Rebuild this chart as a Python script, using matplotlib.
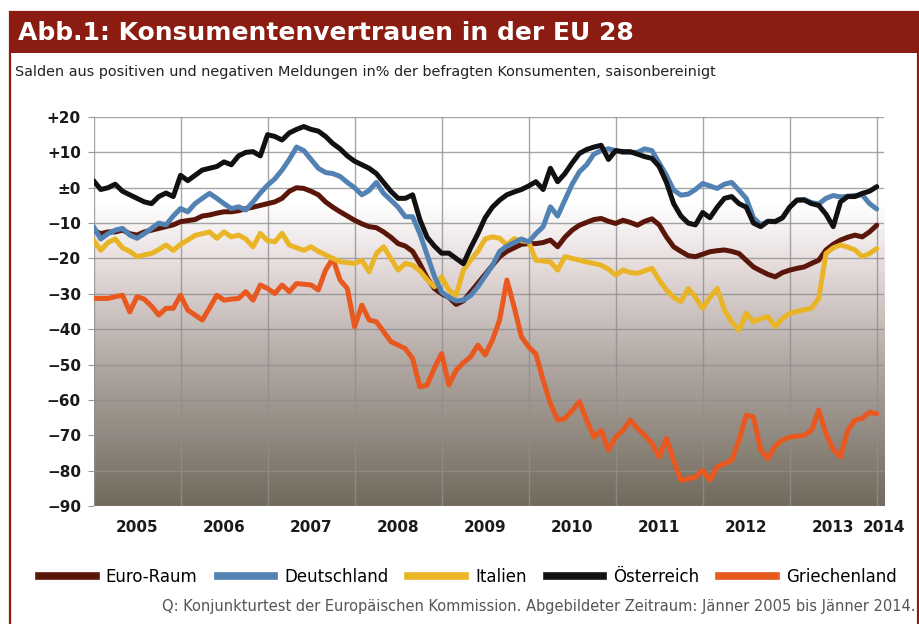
import numpy as np
import matplotlib
matplotlib.use("Agg")
import matplotlib.pyplot as plt
from matplotlib.colors import LinearSegmentedColormap
from matplotlib.patches import Rectangle
from matplotlib.lines import Line2D

# ---------------- data (monthly, Jan 2005 .. Jan 2014) ----------------
years = ["2005", "2006", "2007", "2008", "2009", "2010", "2011", "2012", "2013", "2014"]
y_ticks = [20, 10, 0, -10, -20, -30, -40, -50, -60, -70, -80, -90]
y_labels = ["+20", "+10", "±0", "−10", "−20", "−30", "−40", "−50", "−60", "−70", "−80", "−90"]

euro_raum = [-12, -13, -12.5, -12.5, -12, -13, -13.4, -12.5, -12, -11.5, -11, -10.5,
             -9.6, -9.3, -9, -8, -7.7, -7.2, -6.8, -6.8, -6.5, -5.9, -5.5, -5,
             -4.5, -4, -3, -1, 0, -0.2, -1, -2, -4, -5.5, -6.8, -8,
             -9.2, -10.2, -11, -11.3, -12.5, -14, -15.8, -16.5, -18, -21.5, -25.5, -28.5,
             -30, -31, -33, -32, -29.5, -27, -24.5, -22, -19.5, -18, -17, -16,
             -15.8, -15.8, -15.5, -14.8, -16.7, -14, -12, -10.6, -9.8, -9, -8.7, -9.5,
             -10.1, -9.2, -9.8, -10.6, -9.5, -8.8, -10.5, -13.9, -16.7, -18, -19.2, -19.5,
             -18.8, -18.1, -17.8, -17.6, -18, -18.6, -20.5, -22.4, -23.5, -24.5, -25.2, -24,
             -23.3, -22.8, -22.4, -21.4, -20.5, -17.6, -16, -14.8, -14, -13.4, -13.9, -12.5,
             -10.6]

deutschland = [-11, -14.5, -13, -12, -11.5, -13.4, -14.3, -13, -11.5, -10, -10.5, -8,
               -5.9, -6.8, -4.5, -3, -1.6, -3, -4.5, -5.9, -5.4, -6.3, -4, -1.5,
               0.7, 2.5, 5, 8, 11.5, 10.5, 8, 5.5, 4.3, 4, 3.2, 1.5,
               0, -2, -0.8, 1.5, -1.6, -3.5, -5.5, -8.2, -8.2, -13, -19, -25,
               -29.5, -31, -32, -31.8, -30.5, -28, -25, -22, -18, -16.5, -15.5, -14.5,
               -15.3, -13, -11, -5.4, -8, -3.5, 1, 4.5, 6.5, 9.5, 10.5, 11,
               10.5, 10, 10, 10, 11, 10.5, 7, 3.5, -0.7, -2.1, -1.8, -0.5,
               1.2, 0.5, -0.2, 1, 1.5, -0.7, -3, -8.5, -10.5, -9.5, -9.5, -8.5,
               -5.5, -3.5, -3.3, -4.2, -4.6, -3, -2.2, -2.6, -2.4, -2.2, -2, -4.5,
               -6]

italien = [-14.8, -17.7, -15.5, -14.5, -17, -18, -19.5, -19, -18.6, -17.5, -16.2, -17.7,
           -16, -14.8, -13.5, -13, -12.5, -14.3, -12.5, -13.9, -13.4, -14.5, -16.7, -12.9,
           -15, -15.3, -12.9, -16.2, -17, -17.7, -16.7, -18, -19, -20, -20.9, -21.2,
           -21.4, -20.5, -23.8, -18.6, -16.7, -20, -23.3, -21.4, -21.9, -23.5, -26, -28,
           -25.2, -28.9, -30.4, -23.3, -20.5, -18, -14.5, -13.9, -14.3, -16.2, -14.4, -15,
           -15.3, -20.5, -20.7, -21, -23.3, -19.5, -20, -20.5, -21, -21.4, -21.9, -23,
           -24.7, -23.3, -24, -24.2, -23.5, -22.8, -26.1, -28.9, -31, -32.2, -28.5, -31,
           -34.1, -31, -28.5, -34.6, -38, -40.3, -35.5, -37.9, -37, -36.5, -39.3, -37,
           -35.5, -35, -34.5, -34.1, -31.3, -18.6, -17, -16.2, -16.8, -17.6, -19.5, -18.6,
           -17.2]

oesterreich = [2, -0.5, 0, 1, -1, -2, -3, -4, -4.5, -2.5, -1.5, -2.5,
               3.5, 2, 3.5, 5, 5.5, 6, 7.3, 6.5, 9, 10, 10.2, 9,
               15, 14.5, 13.5, 15.5, 16.5, 17.3, 16.5, 16, 14.5, 12.5, 11, 9,
               7.5, 6.5, 5.5, 4, 1.5, -1, -3, -3, -2, -9, -14, -16.5,
               -18.5, -18.5, -20, -21.5, -17, -13, -8.5, -5.5, -3.5, -2, -1.2, -0.5,
               0.5, 1.7, -0.5, 5.5, 1.7, 4, 7, 9.7, 10.8, 11.5, 12, 8,
               10.5, 10.2, 10.2, 9.5, 8.8, 8.3, 6, 1.5, -4.5, -8, -10, -10.5,
               -7, -8.5, -5.5, -3, -2.5, -4.5, -5.5, -10, -11, -9.5, -9.6, -8.5,
               -5.5, -3.5, -3.5, -4.5, -5, -7.5, -11, -4, -2.5, -2.5, -1.6, -1,
               0.3]

griechenland = [-31.3, -31.3, -31.3, -30.8, -30.4, -35.1, -30.8, -31.5, -33.5, -36, -34.1, -34.1,
                -30.4, -34.6, -36, -37.4, -34, -30.4, -31.8, -31.5, -31.3, -29.4, -31.8, -27.5,
                -28.5, -29.9, -27.5, -29.4, -27.1, -27.3, -27.5, -28.9, -23.3, -20, -26.1, -28.5,
                -39.3, -33.2, -37.4, -37.9, -40.7, -43.5, -44.5, -45.5, -48.3, -56.3, -55.8, -51,
                -46.9, -55.8, -51.6, -49.5, -47.8, -44.5, -47.3, -43.1, -37.4, -26.1, -33.7, -42.1,
                -45, -47, -54.4, -61, -65.7, -65.3, -63, -60.5, -65.7, -70.5, -68.6, -74.2,
                -70.5, -68.6, -65.7, -68.1, -70, -72.3, -76.1, -70.9, -77.1, -82.7, -82.3, -81.8,
                -79.9, -82.7, -78.9, -78, -77.1, -71.4, -64.3, -64.8, -74.2, -76.6, -73, -71.4,
                -70.5, -70.3, -70, -68.6, -62.9, -69.5, -74, -76.1, -68.6, -65.7, -65.2, -63.5,
                -63.9]

series_names = ["Euro-Raum", "Deutschland", "Italien", "Österreich", "Griechenland"]
series_colors = ["#5a1609", "#5282b3", "#e9b526", "#111111", "#e8581f"]

title = "Abb.1: Konsumentenvertrauen in der EU 28"
subtitle = "Salden aus positiven und negativen Meldungen in% der befragten Konsumenten, saisonbereinigt"
source = "Q: Konjunkturtest der Europäischen Kommission. Abgebildeter Zeitraum: Jänner 2005 bis Jänner 2014."

# ---------------- figure ----------------
plt.rcParams["font.family"] = ["DejaVu Sans"]
W, H = 919, 624
fig = plt.figure(figsize=(W / 100, H / 100), dpi=100)
fig.patch.set_facecolor("white")

red = "#8a1c12"
# outer frame and title bar
fig.patches.append(Rectangle((10 / W, -0.02), (W - 11.5) / W, 1 - 12 / H + 0.02,
                             transform=fig.transFigure, facecolor="none",
                             edgecolor=red, linewidth=1.6, zorder=0))
fig.patches.append(Rectangle((10 / W, 1 - 53 / H), (W - 10) / W, 41 / H,
                             transform=fig.transFigure, facecolor=red,
                             edgecolor="none", zorder=1))
fig.text(18 / W, 1 - 33 / H, title, color="white", fontsize=18, fontweight="bold",
         va="center", ha="left")
fig.text(15 / W, 1 - 72 / H, subtitle, color="#222222", fontsize=10.35,
         va="center", ha="left")

left, right, top, bottom = 93.5, 884, 117, 506
ax = fig.add_axes([left / W, 1 - bottom / H, (right - left) / W, (bottom - top) / H])

months = np.arange(len(euro_raum))
xmax = len(euro_raum)

# gradient background
grad_cmap = LinearSegmentedColormap.from_list(
    "bg", [(0.0, "#ffffff"), (0.22, "#ffffff"), (0.38, "#e6dcdc"),
           (0.62, "#b4aaa6"), (1.0, "#726a5c")])
g = np.linspace(0, 1, 256).reshape(-1, 1)
ax.imshow(g, cmap=grad_cmap, extent=[0, xmax, -90, 20], aspect="auto",
          origin="upper", zorder=0, interpolation="bicubic")

ax.set_xlim(0, xmax)
ax.set_ylim(-90, 20)
ax.set_yticks(y_ticks)
ax.set_yticklabels(y_labels)
ax.set_xticks(np.arange(0, xmax, 12), minor=True)
ax.set_xticks(list(np.arange(6, 108, 12)) + [xmax])
ax.set_xticklabels(years)
ax.grid(True, axis="y", color="#8f8f8f", linewidth=1.0, alpha=0.8, zorder=1)
ax.grid(True, axis="x", which="minor", color="#8f8f8f", linewidth=1.0, alpha=0.8, zorder=1)
ax.tick_params(axis="x", which="both", length=0, pad=10)
ax.tick_params(axis="y", length=4, color="#999999", pad=5)
for lbl in ax.get_xticklabels() + ax.get_yticklabels():
    lbl.set_fontweight("bold")
    lbl.set_fontsize(11)
    lbl.set_color("#1a1a1a")
for s in ax.spines.values():
    s.set_visible(False)

data = {"Euro-Raum": euro_raum, "Deutschland": deutschland, "Italien": italien,
        "Österreich": oesterreich, "Griechenland": griechenland}
cmap = dict(zip(series_names, series_colors))
draw_order = ["Griechenland", "Euro-Raum", "Italien", "Deutschland", "Österreich"]
for i, name in enumerate(draw_order):
    ax.plot(months, data[name], color=cmap[name], linewidth=3.6, zorder=3 + i,
            solid_joinstyle="round", solid_capstyle="round")

handles = [Line2D([], [], color=c, linewidth=5.5) for c in series_colors]
fig.legend(handles, series_names, loc="center", bbox_to_anchor=(468 / W, 1 - 577 / H),
           ncol=5, frameon=False, fontsize=12, handlelength=3.4, handletextpad=0.6,
           columnspacing=1.2)

fig.text(915 / W, 1 - 607 / H, source, color="#555555", fontsize=10.5,
         ha="right", va="center")

fig.savefig("out.png", dpi=100)
